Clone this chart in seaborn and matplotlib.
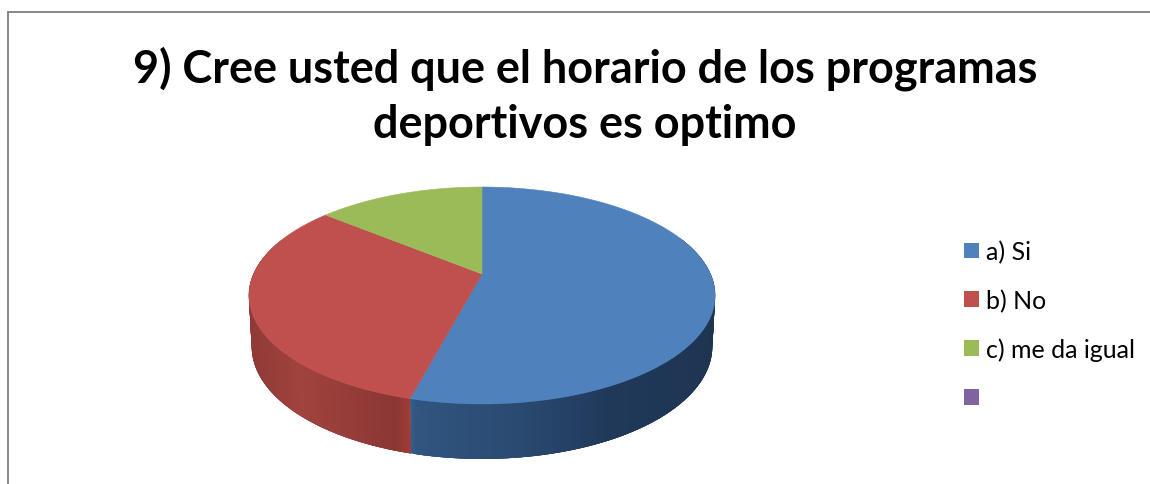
import numpy as np
import matplotlib
matplotlib.use("Agg")
import matplotlib.pyplot as plt
from matplotlib.colors import to_rgb
from matplotlib.patches import Patch
import seaborn as sns

title = "9) Cree usted que el horario de los programas\ndeportivos es optimo"
categories = ["a) Si", "b) No", "c) me da igual", " "]
values = [54.1, 31.9, 14, 0]
slice_colors = ["#4f81bd", "#c0504d", "#9bbb59", "#8064a2"]
# Side wall shading: (screen x, colour) stops for each slice
wall_stops = [
    [(408, "#2f6296"), (416, "#30557f"), (520, "#2a4a70"), (610, "#20395a"), (715, "#1e3552")],
    [(250, "#8f3a36"), (300, "#a2423e"), (395, "#8a3734"), (410, "#a03c38")],
    [(250, "#7f9a48"), (715, "#7f9a48")],
    [(250, "#66508a"), (715, "#66508a")],
]

sns.set_theme(style="white")
plt.rcParams["font.family"] = ["Lato", "DejaVu Sans"]

W, H = 1150, 485
LEFT, TOP = 8, 13
fig = plt.figure(figsize=(W / 100, H / 100), dpi=100, facecolor="white")
ax = fig.add_axes([LEFT / W, 0, (W - LEFT) / W, (H - TOP) / H])

# ax.pie supplies the slice angles; they are redrawn below in perspective
wedges, _ = ax.pie(values, startangle=90, counterclock=False, colors=slice_colors)
angles = [(w.theta1, w.theta2) for w in wedges]
for w in wedges:
    w.remove()

ax.set_axis_on()
ax.set_frame_on(True)
ax.set_aspect("auto")
ax.set_xlim(LEFT, W)
ax.set_ylim(H, TOP)
ax.set_xticks([])
ax.set_yticks([])

CX, CY = 482.0, 275.0
RX, RY, TILT = 228.5, 104.2, 0.198
DEPTH = 50.0


def project(theta_deg, drop=0.0):
    t = np.radians(theta_deg)
    u, v = np.cos(t), np.sin(t)
    w = 1 + TILT * v
    shrink = 1 - 0.012 * drop / DEPTH
    return CX + RX * shrink * u / w, CY - RY * v / w + drop * (1 - 0.1 * v)


def wall_colour(x, stops):
    xs = [s[0] for s in stops]
    rgb = np.array([to_rgb(s[1]) for s in stops])
    return tuple(np.interp(x, xs, rgb[:, i]) for i in range(3))


# Side wall, painted as overlapping quads so no seams show between them
for (t1, t2), stops in zip(angles, wall_stops):
    if t2 - t1 < 1e-6:
        continue
    edges = np.arange(t1, t2 + 0.5, 0.5)
    edges[-1] = t2
    for a, b in zip(edges[:-1], edges[1:]):
        if np.sin(np.radians((a + b) / 2)) > 0.35:
            continue
        b_over = min(b + 1.5, t2)
        xa, ya = project(a)
        xb, yb = project(b_over)
        xc, yc = project(b_over, DEPTH)
        xd, yd = project(a, DEPTH)
        col = wall_colour(project((a + b) / 2)[0], stops)
        ax.fill([xa, xb, xc, xd], [ya, yb, yc, yd], color=col, lw=0, zorder=2)

# Top faces
for (t1, t2), col in zip(angles, slice_colors):
    if t2 - t1 < 1e-6:
        continue
    rim = np.linspace(t1, t2, 240)
    x, y = project(rim)
    ax.fill(np.r_[CX, x], np.r_[CY, y], color=col, lw=0.4, zorder=3)

ax.text(585, 96.5, title, ha="center", va="center", fontsize=32.4, fontweight="bold",
        color="black", linespacing=1.39, zorder=5)

handles = [Patch(facecolor=c, edgecolor="none") for c in slice_colors]
ax.legend(handles, categories, loc="upper left", bbox_to_anchor=(964, 241),
          bbox_transform=ax.transData, frameon=False, fontsize=18, borderpad=0,
          borderaxespad=0, handlelength=0.6, handleheight=0.6, handletextpad=0.26,
          labelspacing=1.02, labelcolor="black")

for side in ("right", "bottom"):
    ax.spines[side].set_visible(False)
for side in ("left", "top"):
    ax.spines[side].set_visible(True)
    ax.spines[side].set_color("#868686")
    ax.spines[side].set_linewidth(1.4)

fig.savefig("out.png", dpi=100, facecolor="white")
